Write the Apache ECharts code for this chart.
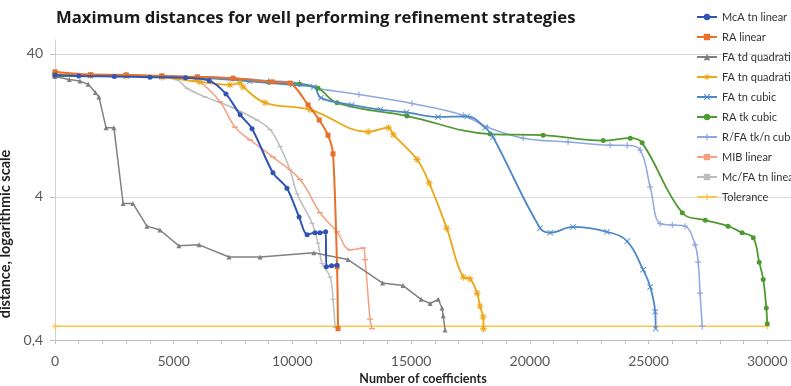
<!DOCTYPE html>
<html><head><meta charset="utf-8">
<script src="https://cdn.jsdelivr.net/npm/echarts@6/dist/echarts.min.js"></script>
<style>html,body{margin:0;padding:0;background:#fff}#c{width:791px;height:386px}</style>
</head><body><div id="c"></div>
<script>
const titleText = 'Maximum distances for well performing refinement strategies';
const xAxisName = 'Number of coefficients';
const yAxisName = 'distance, logarithmic scale';
const yTickValues = [0.4, 4, 40];
const xLabelStep = 5000;

const seriesNames = ['McA tn linear','RA linear','FA td quadratic','FA tn quadratic','FA tn cubic','RA tk cubic','R/FA tk/n cubic','MIB linear','Mc/FA tn linear','Tolerance'];

const mcaTnLinear = [[0,28.5],[1000,28],[2500,27.8],[4000,27.5],[5500,27.2],[6500,26],[7200,21],[7800,15],[8300,12.0],[9180,5.9],[9770,4.6],[10280,2.9],[10620,2.18],[10950,2.25],[11160,2.25],[11400,2.28],[11430,1.30],[11650,1.32],[11880,1.33]];
const raLinear = [[0,30],[1500,28.6],[3000,28.5],[4500,28],[6000,27.6],[7500,27],[9140,25.5],[9900,25],[10660,17.6],[11130,13.8],[11500,10.8],[11710,8.0],[11880,1.30],[11920,0.48]];
const faTdQuadratic = [[0,27.8],[600,26.5],[1050,25.8],[1400,24.5],[1700,21.5],[1850,20],[2150,12.2],[2480,12.2],[2870,3.6],[3280,3.6],[3870,2.5],[4420,2.35],[5220,1.82],[6070,1.85],[7330,1.52],[8640,1.52],[10900,1.63],[12340,1.46],[13800,1.0],[14660,0.96],[15420,0.77],[15800,0.72],[16140,0.77],[16300,0.67],[16350,0.59],[16430,0.47]];
const faTnQuadratic = [[0,28.5],[1500,28.2],[3000,28],[4500,27.5],[6100,25.5],[7370,24.3],[7790,25],[7920,23.5],[8850,18.2],[10740,16.3],[13190,11.4],[14040,12.2],[14250,10.9],[15250,7.3],[15760,5.0],[16500,2.42],[17200,1.10],[17480,1.07],[17780,0.85],[17900,0.69],[18030,0.58],[18050,0.48]];
const faTnCubic = [[0,28.5],[1500,28.3],[3000,28],[4500,27.8],[6000,27.3],[8200,25.7],[10000,24.3],[10900,23.5],[11200,19.7],[12500,17.6],[13700,16.3],[14800,15.6],[16140,14.5],[17360,14.6],[18120,12.2],[18450,10.5],[20430,2.42],[20860,2.25],[21820,2.47],[23250,2.28],[24100,1.96],[24770,1.24],[25070,0.94],[25280,0.63],[25300,0.48]];
const raTkCubic = [[0,27.8],[1500,28.3],[3000,28.2],[4500,28],[6000,27.5],[7500,26.8],[9000,25.3],[10300,24.5],[11080,23.0],[11880,18.2],[14830,14.7],[18330,11.0],[20560,10.8],[23090,9.9],[24230,10.3],[24730,9.55],[26420,3.1],[27390,2.75],[28350,2.5],[28940,2.25],[29410,2.07],[29660,1.40],[29830,1.06],[29960,0.67],[30000,0.52]];
const rfaTknCubic = [[0,28.5],[1500,28.5],[3000,28.3],[4500,28],[6000,27.6],[7500,27],[9000,26],[10300,25],[11040,23],[12800,20.8],[15040,18.0],[17190,14.9],[18200,12.3],[19720,10.3],[21610,9.7],[23380,9.2],[24100,9.15],[24650,8.5],[25070,4.7],[25490,2.6],[26000,2.55],[26540,2.5],[26960,1.85],[27090,1.4],[27170,0.85],[27260,0.5]];
const mibLinear = [[0,29.5],[1500,28.8],[3000,28.5],[4500,28],[5500,27.3],[6100,25.5],[6950,18.5],[7580,12.3],[8220,10],[9180,7.6],[10320,5.3],[11160,3.1],[11880,2.28],[12430,1.71],[12980,1.76],[13060,1.46],[13270,0.56],[13350,0.48]];
const mcFaTnLinear = [[0,28.5],[1500,28.3],[3000,28],[4300,27.6],[5140,26.3],[5560,23],[6320,20],[7500,16.8],[8500,13.8],[9060,11.8],[9480,9.0],[9900,6.2],[10200,4.2],[10830,2.62],[11080,1.9],[11250,1.37],[11590,1.1],[11710,0.77],[11800,0.49]];
const tolerance = [[0,0.5],[30000,0.5]];

const seriesData = [mcaTnLinear, raLinear, faTdQuadratic, faTnQuadratic, faTnCubic, raTkCubic, rfaTknCubic, mibLinear, mcFaTnLinear, tolerance];

const PLUS = 'path://M4,0H6V4H10V6H6V10H4V6H0V4H4Z';
const XMARK = 'path://M1,0L5,4L9,0L10,1L6,5L10,9L9,10L5,6L1,10L0,9L4,5L0,1Z';
const STAR = 'path://M4.3,0H5.7V3.3L8,1L9,2L6.7,4.3H10V5.7H6.7L9,8L8,9L5.7,6.7V10H4.3V6.7L2,9L1,8L3.3,5.7H0V4.3H3.3L1,2L2,1L4.3,3.3Z';

const styles = [
  {color:'#2F55B4', symbol:'circle', size:5, width:2, smooth:0.3},
  {color:'#E8702A', symbol:'rect', size:5, width:2, smooth:0.25},
  {color:'#808080', symbol:'triangle', size:5, width:1.5, smooth:false},
  {color:'#EBA714', symbol:STAR, size:7, width:1.8, smooth:0.4},
  {color:'#4F88C6', symbol:XMARK, size:6, width:1.8, smooth:0.4},
  {color:'#4E9A31', symbol:'circle', size:5, width:1.8, smooth:0.4},
  {color:'#8FA8E0', symbol:PLUS, size:6, width:1.5, smooth:0.4},
  {color:'#F4A080', symbol:'rect', size:[6,1.5], width:1.5, smooth:0.4},
  {color:'#BDBDBD', symbol:'rect', size:[5,1.2], width:1.5, smooth:0.4},
  {color:'#FFC54A', symbol:PLUS, size:6, width:1.5, smooth:false}
];

const FONT = 'Lato';
const chart = echarts.init(document.getElementById('c'), null, {renderer:'canvas'});
chart.setOption({
  animation: false,
  backgroundColor: '#fff',
  title: {
    text: titleText, left: 51, top: 5,
    textStyle: {fontFamily: 'Open Sans', fontWeight: 'bold', fontSize: 16.7, color: '#1a1a1a'}
  },
  legend: {
    orient: 'vertical', left: 691, top: 6,
    itemWidth: 20, itemHeight: 8, itemGap: 8,
    textStyle: {fontFamily: FONT, fontSize: 11, color: '#333', lineHeight: 12},
    data: seriesNames
  },
  grid: {left: 55, right: 0, top: 40, bottom: 46, containLabel: false, outerBoundsMode: 'none'},
  xAxis: {
    type: 'value', min: 0, max: 31000, interval: 1000,
    name: xAxisName, nameLocation: 'middle', nameGap: 27,
    nameTextStyle: {fontFamily: FONT, fontWeight: 'bold', fontSize: 12.5, color: '#1f1f1f'},
    axisLine: {show: true, lineStyle: {color: '#BFBFBF', width: 1}},
    axisTick: {show: true, length: 4, lineStyle: {color: '#BFBFBF'}},
    axisLabel: {
      fontFamily: FONT, fontSize: 14, color: '#595959', margin: 14,
      showMaxLabel: false,
      formatter: v => (v % xLabelStep === 0 && v <= 30000) ? String(v) : ''
    },
    splitLine: {show: false}
  },
  yAxis: {
    type: 'log', logBase: 10, min: 0.4, max: 50,
    name: yAxisName, nameLocation: 'middle', nameGap: 36, nameRotate: 90,
    nameTextStyle: {fontFamily: FONT, fontWeight: 'bold', fontSize: 14.5, color: '#1f1f1f', padding: [0, 88, 0, 0]},
    axisLine: {show: true, lineStyle: {color: '#D0D0D0', width: 1}},
    axisTick: {show: true, length: 5, inside: false, lineStyle: {color: '#BFBFBF'}, customValues: yTickValues},
    axisLabel: {
      fontFamily: FONT, fontSize: 14, color: '#595959', margin: 12,
      customValues: yTickValues,
      formatter: v => String(+v.toPrecision(6)).replace('.', ',')
    },
    splitLine: {show: true, lineStyle: {color: '#D9D9D9', width: 1}},
    minorTick: {show: false}
  },
  series: seriesNames.map((name, i) => ({
    name: name,
    type: 'line',
    data: seriesData[i],
    smooth: styles[i].smooth,
    symbol: styles[i].symbol,
    symbolSize: styles[i].size,
    showAllSymbol: true,
    lineStyle: {color: styles[i].color, width: styles[i].width},
    itemStyle: {color: styles[i].color},
    z: i === 9 ? 1 : 10 - i
  }))
});
</script>
</body></html>
